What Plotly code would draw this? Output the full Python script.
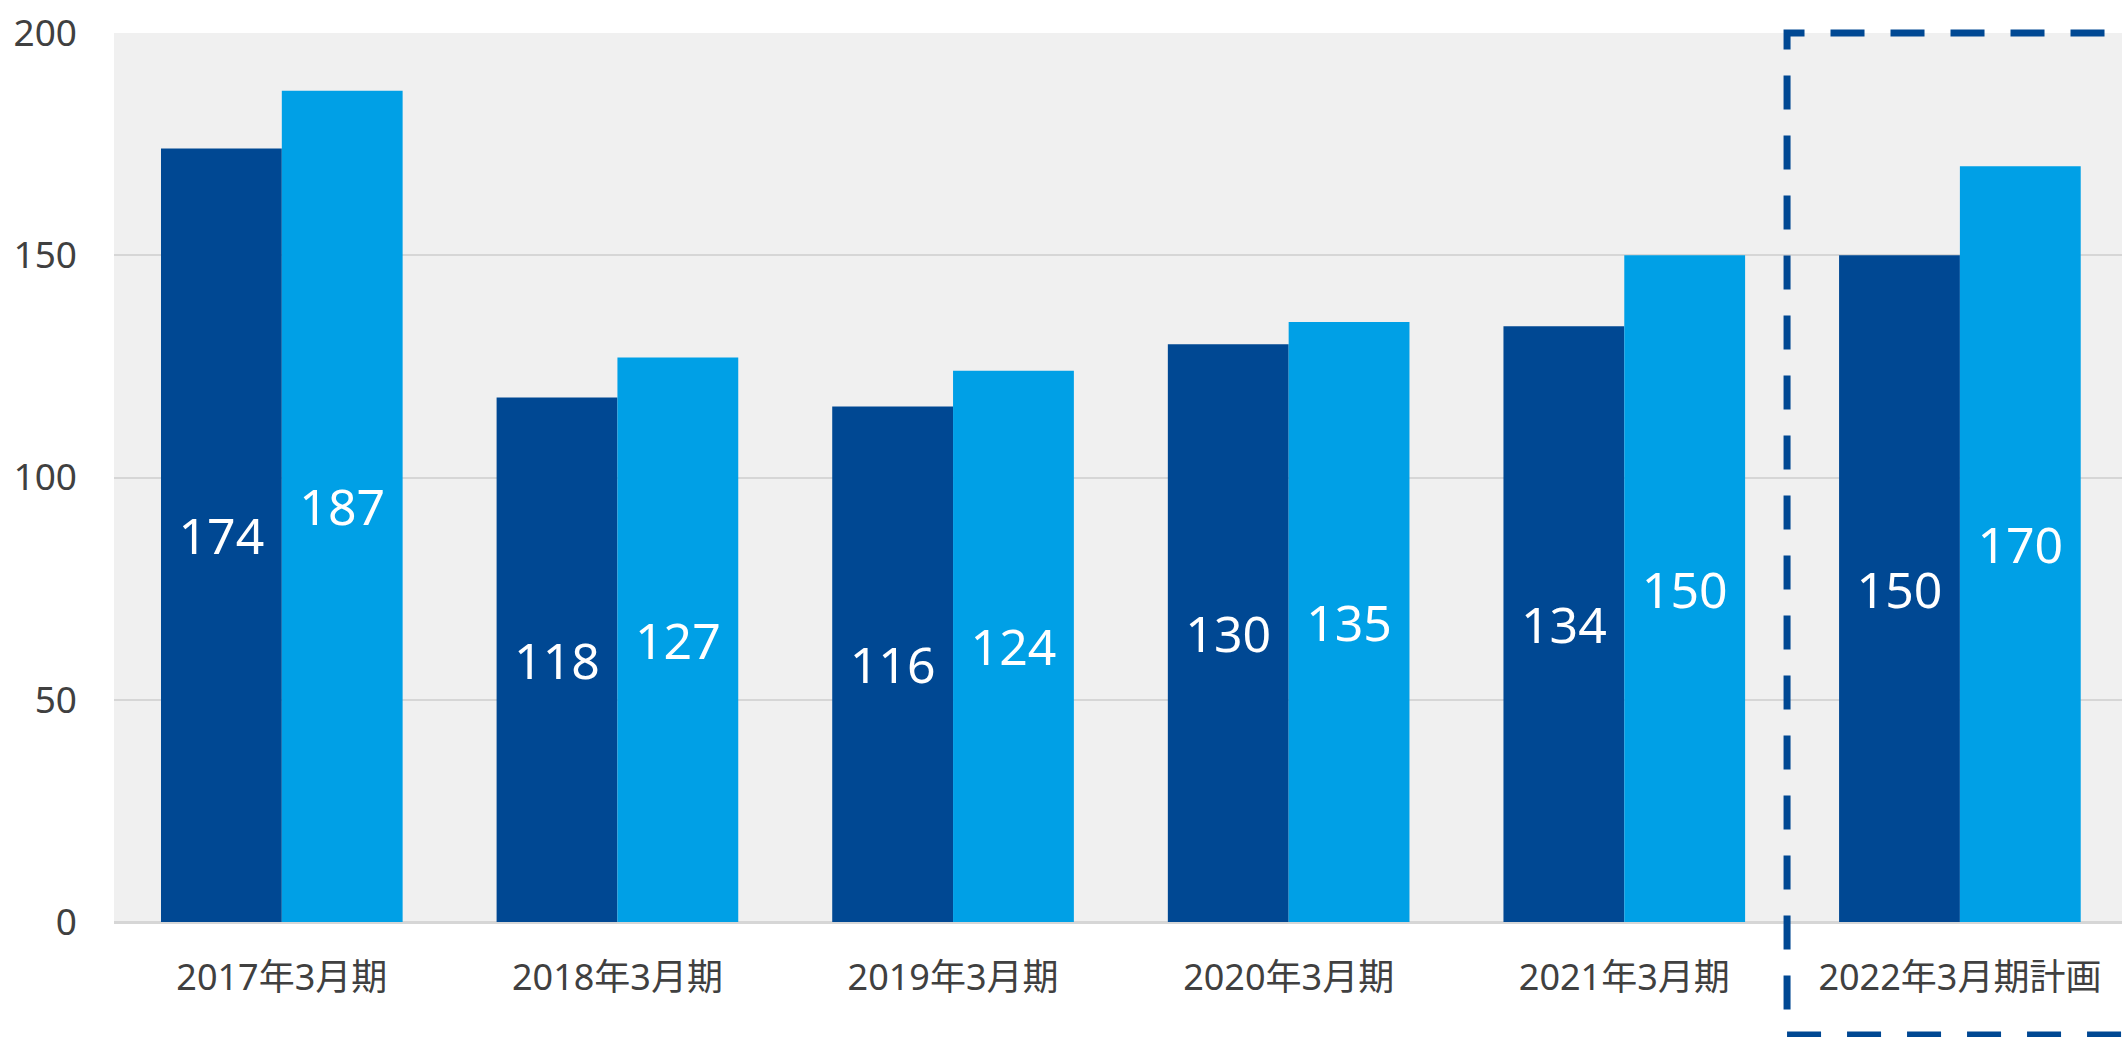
import plotly.graph_objects as go

categories = ["2017年3月期", "2018年3月期", "2019年3月期", "2020年3月期", "2021年3月期", "2022年3月期計画"]
series_dark = [174, 118, 116, 130, 134, 150]
series_light = [187, 127, 124, 135, 150, 170]
y_ticks = [0, 50, 100, 150, 200]

FONT = "Noto Sans, Noto Sans CJK JP, sans-serif"
DARK = "#004893"
LIGHT = "#00a0e6"

fig = go.Figure()
for vals, col in [(series_dark, DARK), (series_light, LIGHT)]:
    fig.add_trace(go.Bar(
        x=list(range(len(categories))), y=vals,
        marker=dict(color=col, line=dict(width=0)),
        text=[str(v) for v in vals],
        textposition="inside", insidetextanchor="middle", textangle=0,
        textfont=dict(color="white", size=50, family=FONT),
        showlegend=False, hoverinfo="skip",
    ))

fig.update_layout(
    width=2122, height=1037,
    margin=dict(l=114, r=0, t=33, b=115),
    barmode="group", bargap=0.28, bargroupgap=0,
    plot_bgcolor="#f0f0f0", paper_bgcolor="white",
    uniformtext=dict(mode=False),
)
fig.update_xaxes(
    range=[-0.5, 5.483],
    tickmode="array", tickvals=list(range(len(categories))), ticktext=categories,
    tickfont=dict(size=36, color="#404040", family=FONT),
    showgrid=False, zeroline=False, showline=False, ticks="",
    ticklabelstandoff=31,
)
fig.update_yaxes(
    range=[0, 200],
    tickmode="array", tickvals=y_ticks,
    tickfont=dict(size=37, color="#404040", family=FONT),
    showgrid=True, gridcolor="#d6d6d6", gridwidth=2,
    zeroline=True, zerolinecolor="#d6d6d6", zerolinewidth=3,
    showline=False, ticks="", ticklabelstandoff=36,
)

fig.add_shape(
    type="rect", xref="x", yref="paper",
    x0=4.485, x1=5.7, y0=-0.127, y1=1.0,
    line=dict(color=DARK, width=7, dash="34px,26px"),
    fillcolor="rgba(0,0,0,0)", layer="above",
)

fig.write_html("out.html")
